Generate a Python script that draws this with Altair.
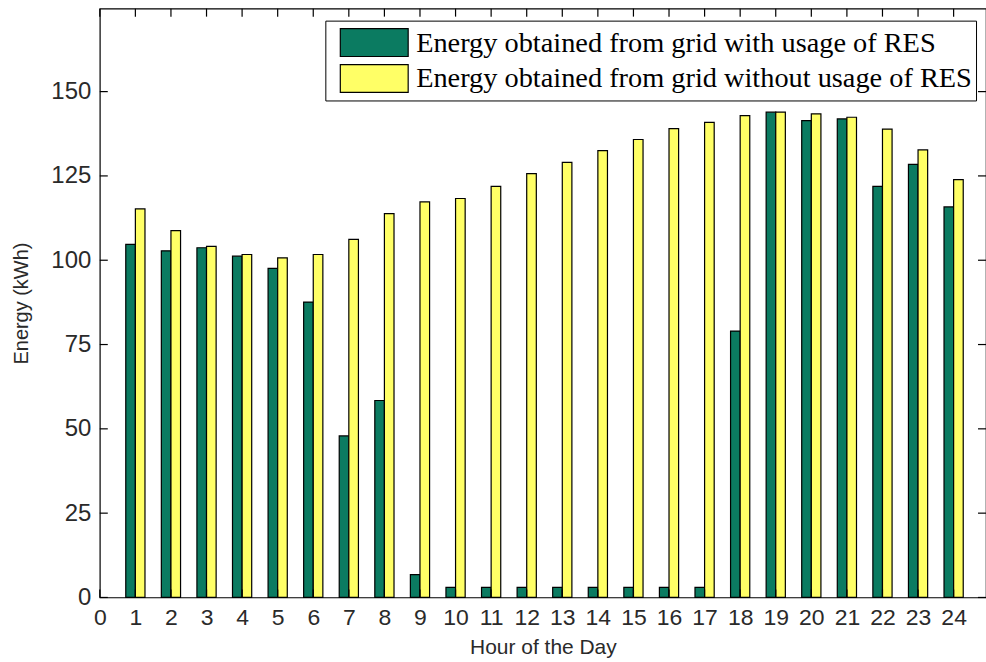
import altair as alt
import pandas as pd

# ---- data ----
hours = list(range(1, 25))
with_res = [104.7, 102.8, 103.7, 101.2, 97.6, 87.6, 47.9, 58.4, 6.8, 3.0, 3.0, 3.0,
            3.0, 3.0, 3.0, 3.0, 3.0, 79.0, 143.9, 141.4, 141.9, 121.9, 128.4, 115.8]
without_res = [115.2, 108.8, 104.1, 101.7, 100.7, 101.7, 106.2, 113.8, 117.3, 118.3, 121.9, 125.7,
               129.0, 132.5, 135.8, 139.0, 140.9, 142.9, 143.9, 143.4, 142.4, 138.9, 132.7, 123.9]
series_names = ["Energy obtained from grid with usage of RES",
                "Energy obtained from grid without usage of RES"]
series_colors = ["#0b7b61", "#ffff66"]
y_ticks = [0, 25, 50, 75, 100, 125, 150]
x_ticks = list(range(0, 25))

rows = []
for h, a, b in zip(hours, with_res, without_res):
    rows.append({"hour": h, "series": series_names[0], "value": a, "idx": 0})
    rows.append({"hour": h, "series": series_names[1], "value": b, "idx": 1})
df = pd.DataFrame(rows)
ydf = pd.DataFrame({"v": y_ticks})
xdf = pd.DataFrame({"v": x_ticks})

W, H = 888, 590
BW = 0.27
TL = 8
TXT = "#2a2a2a"
SANS = "Liberation Sans"

xscale = alt.Scale(domain=[0, 24.91], nice=False, zero=False)
yscale = alt.Scale(domain=[0, 174.6], nice=False)

x_axis = alt.Axis(
    values=x_ticks, title="Hour of the Day", ticks=False, domain=False, grid=False,
    labelFont=SANS, labelFontSize=23, labelColor=TXT, labelPadding=9,
    labelFlush=False, labelOverlap=False, format="d",
    titleFont=SANS, titleFontSize=21, titleFontWeight="normal", titleColor=TXT,
    titleY=50, titleBaseline="middle")
y_axis = alt.Axis(
    values=y_ticks, title="Energy (kWh)", ticks=False, domain=False, grid=False,
    labelFont=SANS, labelFontSize=24, labelColor=TXT, labelPadding=9,
    labelFlush=False, labelOverlap=False,
    titleFont=SANS, titleFontSize=20, titleFontWeight="normal", titleColor=TXT,
    titleX=-78, titleY=295, titleAngle=270, titleBaseline="middle", titleAlign="center")

bars = alt.Chart(df).transform_calculate(
    x0=f"datum.hour - {BW} + datum.idx * {BW}",
    x1=f"datum.hour + datum.idx * {BW}",
).mark_bar(stroke="black", strokeWidth=1.2).encode(
    x=alt.X("x0:Q", scale=xscale, axis=x_axis),
    x2=alt.X2("x1"),
    y=alt.Y("value:Q", scale=yscale, axis=y_axis),
    y2=alt.datum(0),
    color=alt.Color("series:N", title=None,
                    scale=alt.Scale(domain=series_names, range=series_colors),
                    legend=alt.Legend(
                        orient="none", legendX=226, legendY=12, direction="vertical",
                        symbolType="M-1,-0.41H1V0.41H-1Z", symbolSize=4624,
                        symbolStrokeColor="black", symbolStrokeWidth=1.2, symbolOpacity=1,
                        symbolOffset=10, labelOffset=7,
                        labelFont="Liberation Serif", labelFontSize=28.4, labelColor="black",
                        labelLimit=900, clipHeight=36, rowPadding=0, padding=4,
                        strokeColor="black", fillColor="white")),
)

tick_style = dict(color="black", strokeWidth=1.2)
left_ticks = alt.Chart(ydf).mark_rule(**tick_style).encode(
    y=alt.Y("v:Q", scale=yscale, axis=y_axis), x=alt.value(0), x2=alt.value(TL))
right_ticks = alt.Chart(ydf).mark_rule(**tick_style).encode(
    y=alt.Y("v:Q", scale=yscale, axis=y_axis), x=alt.value(W - TL), x2=alt.value(W))
top_ticks = alt.Chart(xdf).mark_rule(**tick_style).encode(
    x=alt.X("v:Q", scale=xscale, axis=x_axis), y=alt.value(0), y2=alt.value(TL))
bottom_ticks = alt.Chart(xdf).mark_rule(**tick_style).encode(
    x=alt.X("v:Q", scale=xscale, axis=x_axis), y=alt.value(H - TL), y2=alt.value(H))

chart = alt.layer(bars, bottom_ticks, left_ticks, right_ticks, top_ticks).properties(
    width=W, height=H,
    padding={"left": 100, "top": 8, "right": 0, "bottom": 64},
    autosize=alt.AutoSizeParams(type="none"),
    background="white",
).configure_view(stroke="black", strokeWidth=1.2)

chart.save("out.html", embed_options={"renderer": "svg", "actions": False})
